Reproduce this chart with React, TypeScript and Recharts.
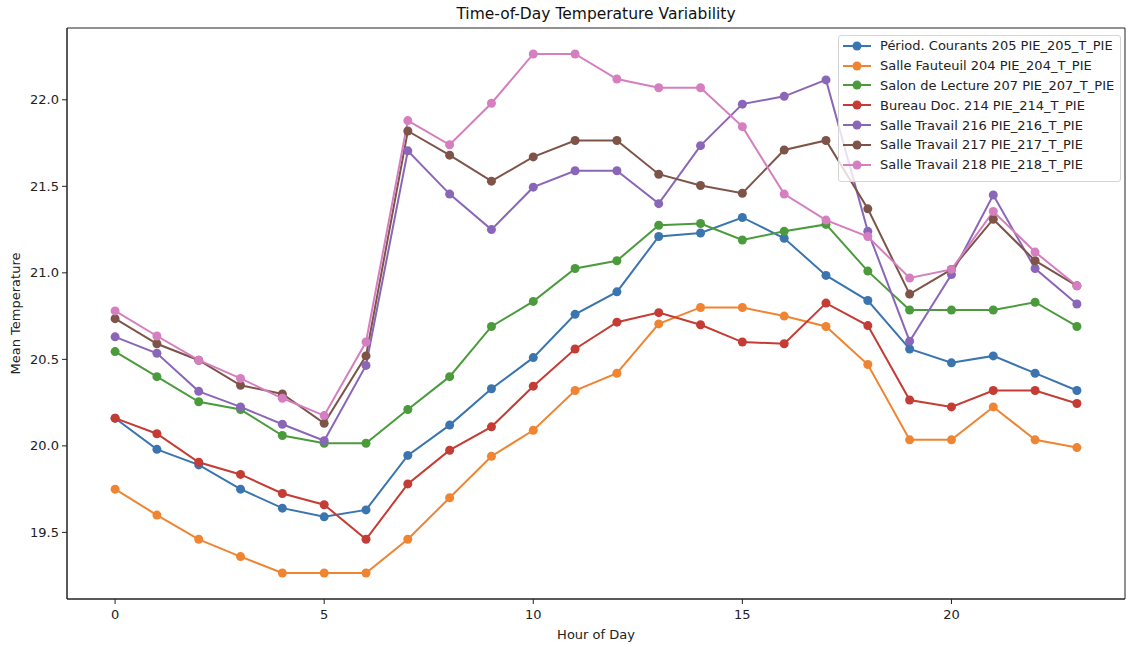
import { LineChart, Line, XAxis, YAxis, Legend, Label, ReferenceArea } from 'recharts';

const hours = [0, 1, 2, 3, 4, 5, 6, 7, 8, 9, 10, 11, 12, 13, 14, 15, 16, 17, 18, 19, 20, 21, 22, 23];

const pie205 = [20.16, 19.98, 19.89, 19.75, 19.64, 19.59, 19.63, 19.945, 20.12, 20.33, 20.51, 20.76, 20.89, 21.21, 21.23, 21.32, 21.2, 20.985, 20.84, 20.56, 20.48, 20.52, 20.42, 20.32];
const pie204 = [19.75, 19.6, 19.46, 19.36, 19.265, 19.265, 19.265, 19.46, 19.7, 19.94, 20.09, 20.32, 20.42, 20.705, 20.8, 20.8, 20.75, 20.69, 20.47, 20.035, 20.035, 20.225, 20.035, 19.99];
const pie207 = [20.545, 20.4, 20.255, 20.21, 20.06, 20.015, 20.015, 20.21, 20.4, 20.69, 20.835, 21.025, 21.07, 21.275, 21.285, 21.19, 21.24, 21.28, 21.01, 20.785, 20.785, 20.785, 20.83, 20.69];
const pie214 = [20.16, 20.07, 19.905, 19.835, 19.725, 19.66, 19.46, 19.78, 19.975, 20.11, 20.345, 20.56, 20.715, 20.77, 20.7, 20.6, 20.59, 20.825, 20.695, 20.265, 20.225, 20.32, 20.32, 20.245];
const pie216 = [20.63, 20.535, 20.315, 20.225, 20.125, 20.03, 20.465, 21.705, 21.455, 21.25, 21.495, 21.59, 21.59, 21.4, 21.735, 21.975, 22.02, 22.115, 21.24, 20.605, 20.99, 21.45, 21.025, 20.82];
const pie217 = [20.735, 20.59, 20.495, 20.35, 20.3, 20.13, 20.52, 21.82, 21.68, 21.53, 21.67, 21.765, 21.765, 21.57, 21.505, 21.46, 21.71, 21.765, 21.37, 20.877, 21.02, 21.31, 21.07, 20.925];
const pie218 = [20.78, 20.635, 20.495, 20.39, 20.275, 20.175, 20.6, 21.88, 21.74, 21.98, 22.265, 22.265, 22.12, 22.07, 22.07, 21.845, 21.455, 21.305, 21.21, 20.97, 21.02, 21.355, 21.12, 20.925];

const seriesNames = [
  'Périod. Courants 205 PIE_205_T_PIE',
  'Salle Fauteuil 204 PIE_204_T_PIE',
  'Salon de Lecture 207 PIE_207_T_PIE',
  'Bureau Doc. 214 PIE_214_T_PIE',
  'Salle Travail 216 PIE_216_T_PIE',
  'Salle Travail 217 PIE_217_T_PIE',
  'Salle Travail 218 PIE_218_T_PIE',
];
const seriesValues = [pie205, pie204, pie207, pie214, pie216, pie217, pie218];
const colors = ['#3a75b0', '#ef8532', '#4b9b3d', '#c43c34', '#8a66b8', '#7e5449', '#d57ec0'];

const xTicks = [0, 5, 10, 15, 20];
const yTicks = [19.5, 20.0, 20.5, 21.0, 21.5, 22.0];
const xDomain = [-1.15, 24.15];
const yDomain = [19.115, 22.415];

const data = hours.map((h, i) => {
  const row: Record<string, number> = { hour: h };
  seriesValues.forEach((vals, s) => {
    row[`s${s}`] = vals[i];
  });
  return row;
});

const font = '"DejaVu Sans", sans-serif';
const axisColor = '#222';
const textStyle = { fill: '#222', fontSize: 13, fontFamily: font };

function LegendBox() {
  return (
    <div
      style={{
        background: 'rgba(255,255,255,0.8)',
        border: '1px solid #d4d4d4',
        borderRadius: 3,
        padding: '0px 6px 6px 4px',
        fontFamily: font,
        fontSize: 13,
        color: '#222',
      }}
    >
      {seriesNames.map((name, i) => (
        <div key={name} style={{ display: 'flex', alignItems: 'center', height: 19.8 }}>
          <svg width={29} height={12} style={{ marginRight: 8 }}>
            <line x1={0} y1={6} x2={28} y2={6} stroke={colors[i]} strokeWidth={2} />
            <circle cx={14} cy={6} r={4.5} fill={colors[i]} />
          </svg>
          <span style={{ whiteSpace: 'nowrap' }}>{name}</span>
        </div>
      ))}
    </div>
  );
}

export default function App() {
  return (
    <div style={{ position: 'absolute', left: 0, top: 0, width: 1126, height: 645, background: '#fff' }}>
      <div
        style={{
          position: 'absolute',
          top: 5,
          left: 67,
          width: 1058,
          textAlign: 'center',
          fontFamily: font,
          fontSize: 15.5,
          color: '#111',
        }}
      >
        Time-of-Day Temperature Variability
      </div>
      <LineChart width={1126} height={645} data={data} margin={{ top: 28, right: 1, left: 0, bottom: 0 }}>
        <XAxis
          dataKey="hour"
          type="number"
          domain={xDomain}
          ticks={xTicks}
          allowDataOverflow
          height={46}
          stroke={axisColor}
          tickSize={5}
          tick={textStyle}
          tickMargin={6}
        >
          <Label value="Hour of Day" position="insideBottom" offset={6} style={textStyle} />
        </XAxis>
        <YAxis
          type="number"
          domain={yDomain}
          ticks={yTicks}
          allowDataOverflow
          width={67}
          stroke={axisColor}
          tickSize={5}
          tickFormatter={(v: number) => v.toFixed(1)}
          tick={textStyle}
          tickMargin={3}
        >
          <Label value="Mean Temperature" angle={-90} position="insideLeft" offset={15} style={{ ...textStyle, textAnchor: 'middle' }} />
        </YAxis>
        <ReferenceArea
          x1={xDomain[0]}
          x2={xDomain[1]}
          y1={yDomain[0]}
          y2={yDomain[1]}
          fill="none"
          fillOpacity={0}
          stroke={axisColor}
          strokeWidth={1}
        />
        <Legend
          layout="horizontal"
          verticalAlign="middle"
          wrapperStyle={{ top: 35, left: 838, width: 'auto' }}
          content={() => <LegendBox />}
        />
        {seriesNames.map((name, i) => (
          <Line
            key={name}
            type="linear"
            dataKey={`s${i}`}
            name={name}
            stroke={colors[i]}
            strokeWidth={2}
            dot={{ r: 4.5, fill: colors[i], stroke: colors[i], strokeWidth: 0 }}
            activeDot={false}
            isAnimationActive={false}
          />
        ))}
      </LineChart>
    </div>
  );
}
